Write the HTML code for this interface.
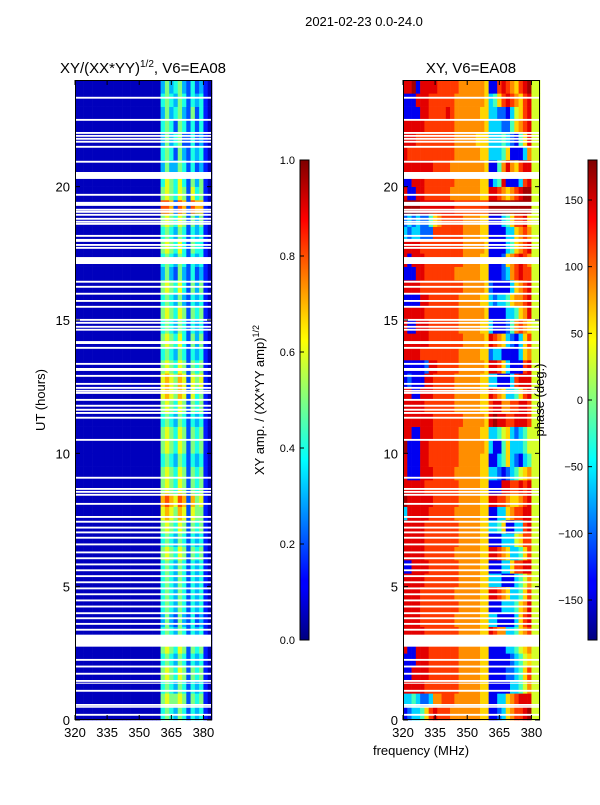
<!DOCTYPE html>
<html><head><meta charset="utf-8"><style>
body{margin:0;background:#fff;width:600px;height:800px;overflow:hidden;font-family:"Liberation Sans",sans-serif}
svg text{font-family:"Liberation Sans",sans-serif;fill:#000}
</style></head><body>
<svg id="c" width="600" height="800" xmlns="http://www.w3.org/2000/svg">
<defs>
<linearGradient id="jet" x1="0" y1="1" x2="0" y2="0">
<stop offset="0" stop-color="#00007f"/><stop offset="0.11" stop-color="#0000ff"/><stop offset="0.125" stop-color="#0000ff"/>
<stop offset="0.34" stop-color="#00ddff"/><stop offset="0.375" stop-color="#00ffff"/><stop offset="0.5" stop-color="#80ff80"/>
<stop offset="0.625" stop-color="#ffff00"/><stop offset="0.66" stop-color="#ffe000"/><stop offset="0.875" stop-color="#ff0000"/><stop offset="0.89" stop-color="#f00000"/><stop offset="1" stop-color="#7f0000"/>
</linearGradient>
</defs>
<text x="364" y="26" font-size="13" text-anchor="middle">2021-02-23 0.0-24.0</text>
<text x="143" y="73" font-size="15" text-anchor="middle">XY/(XX*YY)<tspan font-size="10" dy="-6">1/2</tspan><tspan dy="6">, V6=EA08</tspan></text>
<text x="471" y="73" font-size="15" text-anchor="middle">XY, V6=EA08</text>
<g id="left"></g>
<g id="right"></g>
<g id="axes"></g>
<text transform="translate(45,400) rotate(-90)" font-size="13" text-anchor="middle">UT (hours)</text>
<text transform="translate(264,400) rotate(-90)" font-size="13" text-anchor="middle">XY amp. / (XX*YY amp)<tspan font-size="9" dy="-5">1/2</tspan></text>
<text transform="translate(544,400) rotate(-90)" font-size="13" text-anchor="middle">phase (deg.)</text>
<text x="421" y="755" font-size="13" text-anchor="middle">frequency (MHz)</text>
<rect x="300" y="160" width="9" height="480" fill="url(#jet)" stroke="#000" stroke-width="1"/>
<rect x="588" y="160" width="9" height="480" fill="url(#jet)" stroke="#000" stroke-width="1"/>
<g id="cbticks"></g>
</svg>
<script>
const freqStart = 320, freqStep = 2, nFreq = 32;
const rowHours = 0.5;
const xTicks = [320, 335, 350, 365, 380];
const yTicks = [0, 5, 10, 15, 20];
const ampTicks = [0.0, 0.2, 0.4, 0.6, 0.8, 1.0];
const phaseTicks = [-150, -100, -50, 0, 50, 100, 150];
// amplitude rows: index 0 = 0-0.5 h ; tail = bins 360..382 MHz (prefix 320..358 are background)
const ampTails = ["454354243410","565565254510","454354243410","565465254510","454354243410","565465254510","454354243410","353253242310",
"454354243410","454354243410","454354243410","454354243410","565465254510","454354243410","565465254510","676576265510",
"787687275610","565465254510","565465254510","454354243410","565465254510","565465254510","454354243410","565465254510",
"676576264510","676576265610","565465254510","454354243410","565464253510","454354243410","565465254510","454353243410",
"565464253510","353253242310","454354243410","565464254410","454354243410","565465253510","887287287710","565465264510",
"465464253510","353354242310","454253243410","353452242310","454254242410","353453252410","454354243410","353453242310"];
const ampPrefix = "00000000000000000000";
const ampLevels = {"0":0.06,"1":0.15,"2":0.2,"3":0.3,"4":0.4,"5":0.5,"6":0.6,"7":0.7,"8":0.8,"9":0.9};
// phase rows: segments A (320-336), B (336-360), C (360-380), D (380-384)
const phaseA = ["BCDDEGIJ","DDEDCCDH","JJJJJIII","BBJJJJII","BBBJJJII","JBBJJJII","JJJJJIII","JJJJIIII",
"JJJJIIII","JJJJIIII","JJJJJIII","BBJJJJII","JJJJJIII","JJJJJIII","JJJJJIII","DJJJJJII",
"KJJJJJJI","JJJJJIII","JBBBJJJI","JBBBJJII","KBBBJJII","JJBBJJJI","JJJJJJJI","JJJJJIII",
"JJBBJJJI","BCBBBJJI","BBBBBCJJ","JJJJIIII","JJJJJJII","JBBJJJII","JJJJJIII","BBBBJJII",
"JJJJIIII","BBBJJIII","JBJJJIII","JJJJIIII","DCDDCCCI","CDCDCCEG","KKKKJJJJ","JBBJJIII",
"BBJJJIII","JJJJJJJI","JIIIIIII","JJJIIIII","JJJJJIII","BBBBJJII","BBBJJJII","JJKBJJJJ"];
const phaseB = ["IIIHHHHHHHGG","HIIIHHHHHHGG","IIIIIHHHHHGG","IIIIIHHHHHGG","IIIIIHHHHHGG","IIIIIHHHHHGG","IIIIIHHHHHGG","IIIIHHHHHHGG",
"IIIIIHHHHHGG","IIIIHHHHHHGG","IIIIIHHHHHGG","IIIIIHHHHHGG","IIIIHHHHHHGG","IIIIIHHHHHGG","IIIIIHHHHHGG","IIIIHHHHHHGG",
"IIIIIHHHHHGG","IIIIIHHHHHGG","IIIIHHHHHHGG","IIIIIHHHHHGG","IIIIIHHHHHHG","IIIIIHHHHHGG","IIIIIIHHHHHG","IIIIHHHHHHGG",
"IIIIHHHHHHGG","IIIIHHHHHHGG","IIIIIHHHHHHG","IIIIIHHHHHGG","IIIIIIHHHHHG","IIIIIHHHHHGG","IIIIIHHHHHHG","IIIIIHHHHHGG",
"IIIIIIHHHHHG","IIIIHHHHHHGG","IIIIIIHHHHGG","IIIIIIHHHHHG","IIIIIIHHHHGG","HIIIIIHHHHGG","JJJJIIIIIIII","IIIHHHHHHHGG",
"IIIIHHHHHHGG","IIIHHHHHHHHG","IIIIHHHHHHGG","IIIIHHHHHGGG","IIIIHHHHHHHG","IIJIHHHHHHGG","IIIIHHHHHHHG","IIIIIHHHHHHG"];
const phaseC = ["BBCDGHIIJK","BBDDGHIJJJ","BBBBBDDEFH","BBBBCCDEGI","BBBBBCDEFG","BBBBDDEFGH","JIHHDDEGHI","DDBBBBDGIJ",
"BBBDDDEGHJ","JJIHGDDEGI","DDDBBBDEFH","BBBDDGIIJJ","JJIHGDDEGI","BBBDDDFGII","DDEGBBDDIJ","BBDDGHIIJJ",
"JJIIHGGHIJ","BBBJJIIJIJ","DDCBCDEFGH","BBDEGDCBDE","DBBEGDDDEF","DDEFGDCDEF","JKJJIIJJJI","IJJHHIIJJI",
"JIHGDDEGIJ","DDBBBDIJJJ","JJIGDBBBIJ","CDDBBBBDGH","JIHGDCBDGI","DBBBCEHIHG","BBBBDDEGHJ","DCDDEGHHIJ",
"CBBBBDGHIJ","BBBCDHIJII","BBBCGHIJIH","BBBBDEGHIJ","BBBBDDGHIH","BBBDEGIIJG","KKKKKKKKKK","JJIHGHIJKK",
"BDEJBBBDIJ","BBEHJHGIJJ","DDDEGBBBDH","DDDEDCBEGJ","DDDCCEGHIJ","DDCCBDFGIJ","DEGIJIHGIJ","BBIJIHGIJK"];
const phaseD = "FF";
const phaseLevels = {"A":-170,"B":-140,"C":-100,"D":-60,"E":-20,"F":30,"G":60,"H":85,"I":115,"J":145,"K":168};
// flagged (white) time ranges in hours: start, end
const gapStart = [23.30,22.47,21.98,21.87,21.76,21.65,21.46,20.90,20.29,19.66,19.28,19.10,19.02,18.91,18.76,18.65,18.57,18.12,17.93,17.78,17.67,17.10,16.40,16.21,15.95,15.68,15.46,14.97,14.86,14.71,14.60,14.10,13.92,13.32,13.09,12.87,12.57,12.42,12.31,12.23,11.97,11.75,11.60,11.48,11.30,10.47,9.05,8.63,8.52,8.41,8.07,7.58,7.40,7.18,7.00,6.80,6.55,6.25,6.03,5.80,5.58,5.36,5.13,4.90,4.68,4.45,4.22,3.97,3.78,3.57,3.35,2.75,2.22,1.97,1.70,1.43,1.36,1.06,0.53,0.46,0.16];
const gapEnd   = [23.37,22.54,22.05,21.94,21.83,21.72,21.53,20.97,20.55,19.73,19.43,19.17,19.09,18.98,18.83,18.72,18.64,18.19,18.04,17.85,17.74,17.36,16.47,16.28,16.02,15.75,15.53,15.04,14.93,14.78,14.67,14.21,13.99,13.39,13.20,12.94,12.64,12.49,12.38,12.30,12.04,11.82,11.67,11.55,11.37,10.54,9.12,8.70,8.59,8.48,8.14,7.65,7.47,7.25,7.07,6.87,6.62,6.32,6.10,5.87,5.65,5.43,5.20,4.97,4.75,4.52,4.29,4.04,3.85,3.64,3.42,3.20,2.29,2.04,1.77,1.50,1.40,1.13,0.60,0.52,0.23];

const NS = "http://www.w3.org/2000/svg";
const AX_T = 80, AX_B = 720, AX_W = 137;
const panels = [{x0:75, g:"left"},{x0:403, g:"right"}];
const fMin = 320, fMax = 384, hMin = 0, hMax = 24;
function xScale(x0, f){ return x0 + (f - fMin) / (fMax - fMin) * AX_W; }
function yScale(h){ return AX_B - (h - hMin) / (hMax - hMin) * (AX_B - AX_T); }
function jet(t){ t = Math.max(0, Math.min(1, t));
  const c = v => Math.round(255 * Math.max(0, Math.min(1, v)));
  return `rgb(${c(1.5-Math.abs(4*t-3))},${c(1.5-Math.abs(4*t-2))},${c(1.5-Math.abs(4*t-1))})`; }
function mk(tag, attrs, parent){ const e = document.createElementNS(NS, tag); for (const k in attrs) e.setAttribute(k, attrs[k]); parent.appendChild(e); return e; }

function drawCells(x0, gid, rowStrings, levelMap, toT){
  const g = document.getElementById(gid);
  rowStrings.forEach((row, r) => {
    const yTop = yScale((r + 1) * rowHours), yBot = yScale(r * rowHours);
    for (let i = 0; i < nFreq; i++){
      const f = freqStart + i * freqStep;
      const xa = xScale(x0, f), xb = xScale(x0, f + freqStep);
      const v = levelMap[row[i]];
      const rc = mk("rect", {x: xa.toFixed(2), y: yTop.toFixed(2), width: (xb - xa + 0.3).toFixed(2), height: (yBot - yTop + 0.3).toFixed(2), fill: jet(toT(v))}, g);
      
      
    }
  });
}
const ampRows = ampTails.map(t => ampPrefix + t);
const phaseRows = phaseA.map((a, i) => a + phaseB[i] + phaseC[i] + phaseD);
drawCells(75, "left", ampRows, ampLevels, v => v);
drawCells(403, "right", phaseRows, phaseLevels, v => (v + 180) / 360);

const axes = document.getElementById("axes");
panels.forEach((p, pi) => {
  const gg = document.getElementById(p.g);
  gapStart.forEach((s, i) => {
    const ya = yScale(gapEnd[i]), yb = yScale(s);
    const w = mk("rect", {x: p.x0, y: ya.toFixed(2), width: AX_W, height: (yb - ya).toFixed(2), fill: "#fff"}, gg);
    
    
  });
  const fr = mk("rect", {x: p.x0 + 0.5, y: AX_T + 0.5, width: AX_W - 1, height: AX_B - AX_T - 1, fill: "none", stroke: "#000"}, axes);
  
  
  xTicks.forEach(f => {
    const x = xScale(p.x0, f);
    mk("line", {x1: x, x2: x, y1: AX_B, y2: AX_B - 5, stroke: "#000"}, axes);
    mk("line", {x1: x, x2: x, y1: AX_T, y2: AX_T + 5, stroke: "#000"}, axes);
    const t = mk("text", {x: x, y: AX_B + 17, "font-size": 13, "text-anchor": "middle"}, axes);
    t.textContent = f;
    
    
  });
  yTicks.forEach(h => {
    const y = yScale(h);
    mk("line", {x1: p.x0, x2: p.x0 + 5, y1: y, y2: y, stroke: "#000"}, axes);
    mk("line", {x1: p.x0 + AX_W, x2: p.x0 + AX_W - 5, y1: y, y2: y, stroke: "#000"}, axes);
    const t = mk("text", {x: p.x0 - 5, y: y + 5, "font-size": 13, "text-anchor": "end"}, axes);
    t.textContent = h;
    
    
  });
});
const cb = document.getElementById("cbticks");
ampTicks.forEach(v => {
  const y = 640 - v * 480;
  mk("line", {x1: 300, x2: 304, y1: y, y2: y, stroke: "#000"}, cb);
  const t = mk("text", {x: 295, y: y + 4, "font-size": 11, "text-anchor": "end"}, cb);
  t.textContent = v.toFixed(1);
  
  
});
phaseTicks.forEach(v => {
  const y = 640 - (v + 180) / 360 * 480;
  mk("line", {x1: 588, x2: 592, y1: y, y2: y, stroke: "#000"}, cb);
  const t = mk("text", {x: 583, y: y + 4, "font-size": 11, "text-anchor": "end"}, cb);
  t.textContent = v < 0 ? "\u2212" + Math.abs(v) : v;
  
  
});
</script>
</body></html>
